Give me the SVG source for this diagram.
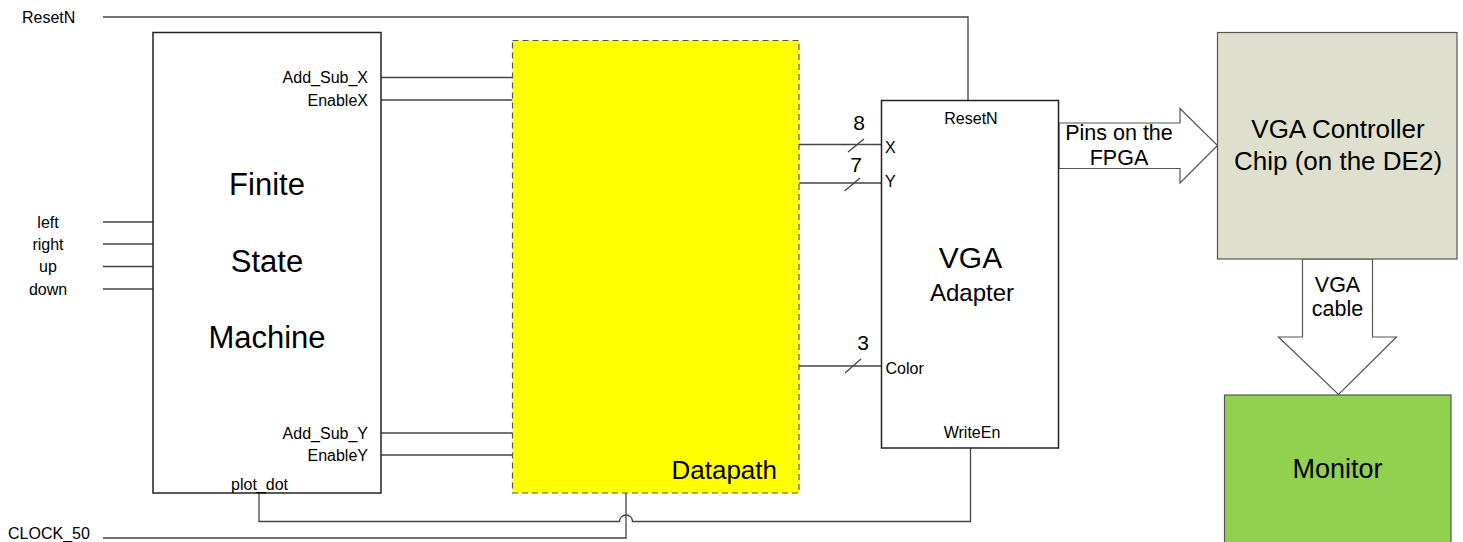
<svg xmlns="http://www.w3.org/2000/svg" width="1463" height="542" viewBox="0 0 1463 542">
<style>
text{font-family:"Liberation Sans",Arial,sans-serif;fill:#000}
.s{font-size:16px}
.b{font-size:21.5px}
.n{font-size:21px}
.w{stroke:#444;stroke-width:1.3;fill:none}
.box{fill:#fff;stroke:#222;stroke-width:1.5}
.e{text-anchor:end}
.m{text-anchor:middle}
</style>
<rect width="1463" height="542" fill="#fff"/>
<g id="connectors">
  <polyline class="w" points="103,17 968,17 968,100"/>
  <line class="w" x1="103" y1="222" x2="153" y2="222"/>
  <line class="w" x1="103" y1="244" x2="153" y2="244"/>
  <line class="w" x1="103" y1="266.5" x2="153" y2="266.5"/>
  <line class="w" x1="103" y1="289" x2="153" y2="289"/>
  <line class="w" x1="381" y1="77.5" x2="512.5" y2="77.5"/>
  <line class="w" x1="381" y1="100" x2="512.5" y2="100"/>
  <line class="w" x1="381" y1="433" x2="512.5" y2="433"/>
  <line class="w" x1="381" y1="455" x2="512.5" y2="455"/>
  <line class="w" x1="799" y1="144.5" x2="881.5" y2="144.5"/>
  <line class="w" x1="799" y1="183" x2="881.5" y2="183"/>
  <line class="w" x1="799" y1="366" x2="881.5" y2="366"/>
  <line class="w" x1="848" y1="152" x2="864" y2="139"/>
  <line class="w" x1="844.5" y1="191" x2="860" y2="178"/>
  <line class="w" x1="845" y1="373" x2="861" y2="359"/>
  <path class="w" d="M259,493 V521.5 H619.5 A6.5,6.5 0 0 1 632.5,521.5 H970.5 V448"/>
  <polyline class="w" points="103,538 626,538 626,493"/>
  <polygon points="1059,123 1180,123 1180,108.5 1217.5,145.5 1180,183 1180,168.5 1059,168.5" fill="#fff" stroke="#555" stroke-width="1.2"/>
  <polygon points="1302.5,259 1372.5,259 1372.5,337 1396.5,337 1338.5,394.5 1278.5,337 1302.5,337" fill="#fff" stroke="#555" stroke-width="1.2"/>
  <text class="b m" x="1119" y="140">Pins on the</text>
  <text class="b m" x="1119" y="165">FPGA</text>
  <text class="b m" x="1337.5" y="291.5">VGA</text>
  <text class="b m" x="1337.5" y="315.5">cable</text>
  <text class="n m" x="859" y="129.5">8</text>
  <text class="n m" x="856" y="171.5">7</text>
  <text class="n m" x="863" y="349.5">3</text>
</g>
<g id="inputs">
  <text class="s" x="22" y="23">ResetN</text>
  <text class="s m" x="48" y="227.5">left</text>
  <text class="s m" x="48" y="249.5">right</text>
  <text class="s m" x="48" y="272">up</text>
  <text class="s m" x="48" y="294.5">down</text>
  <text class="s" x="8" y="538.5">CLOCK_50</text>
</g>
<g id="fsm">
  <rect class="box" x="153" y="32.5" width="228" height="460.5"/>
  <text class="s e" x="368" y="83">Add_Sub_X</text>
  <text class="s e" x="368" y="105.5">EnableX</text>
  <text class="s e" x="368" y="438.5">Add_Sub_Y</text>
  <text class="s e" x="368" y="460.5">EnableY</text>
  <text class="s m" x="259.5" y="490">plot_dot</text>
  <text class="m" x="267" y="195" font-size="31">Finite</text>
  <text class="m" x="267" y="271.5" font-size="31">State</text>
  <text class="m" x="267" y="348" font-size="31">Machine</text>
</g>
<g id="datapath">
  <rect x="512.5" y="40.5" width="286.5" height="452.5" fill="#ffff00" stroke="#555" stroke-width="1.2" stroke-dasharray="6,4"/>
  <text class="e" x="777" y="478.5" font-size="26">Datapath</text>
</g>
<g id="vga-adapter">
  <rect class="box" x="881.5" y="100.5" width="177" height="347.5"/>
  <text class="s m" x="971" y="123.5">ResetN</text>
  <text class="s" x="885" y="152.5">X</text>
  <text class="s" x="885" y="187">Y</text>
  <text class="s" x="885.5" y="374">Color</text>
  <text class="s m" x="972" y="437.5">WriteEn</text>
  <text class="m" x="970.5" y="268" font-size="30">VGA</text>
  <text class="m" x="972" y="301" font-size="24">Adapter</text>
</g>
<g id="vga-controller">
  <rect x="1217.5" y="32.5" width="239.5" height="226.5" fill="#dedfcc" stroke="#555" stroke-width="1.2"/>
  <text class="m" x="1338" y="138" font-size="26">VGA Controller</text>
  <text class="m" x="1338" y="170" font-size="26">Chip (on the DE2)</text>
</g>
<g id="monitor">
  <rect x="1224.5" y="395" width="226.5" height="160" fill="#92d050" stroke="#555" stroke-width="1.2"/>
  <text class="m" x="1337.5" y="478" font-size="27">Monitor</text>
</g>
</svg>
